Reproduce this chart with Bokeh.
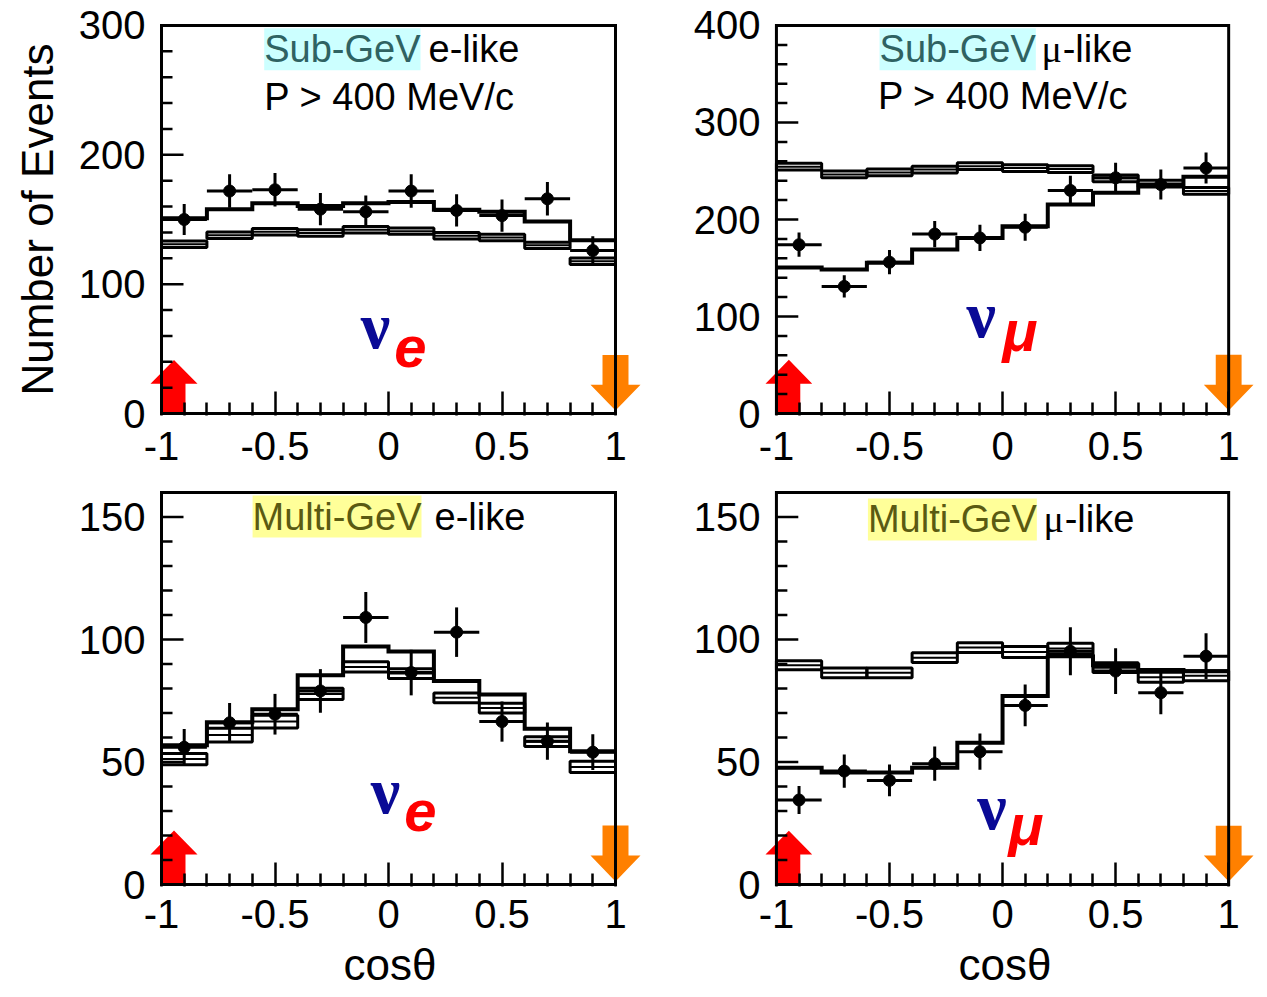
import numpy as np
from bokeh.plotting import figure
from bokeh.layouts import row, column
from bokeh.models import Label, FixedTicker, SingleIntervalTicker, Range1d, Title
from bokeh.embed import file_html
from bokeh.resources import INLINE

# ---------------- data ----------------
bin_edges = [-1.0, -0.8, -0.6, -0.4, -0.2, 0.0, 0.2, 0.4, 0.6, 0.8, 1.0]
bin_centers = [-0.9, -0.7, -0.5, -0.3, -0.1, 0.1, 0.3, 0.5, 0.7, 0.9]
x_major_ticks = [-1.0, -0.5, 0.0, 0.5, 1.0]
x_minor_ticks = [-0.9, -0.8, -0.7, -0.6, -0.4, -0.3, -0.2, -0.1,
                 0.1, 0.2, 0.3, 0.4, 0.6, 0.7, 0.8, 0.9]
x_tick_labels = {-1: "-1", -0.5: "-0.5", 0: "0", 0.5: "0.5", 1: "1"}

# Sub-GeV e-like
sge_data = [150, 172, 173, 158, 156, 172, 157, 153, 166, 126]
sge_err = [12, 13, 13, 12.5, 12.5, 13, 12.5, 12.5, 13, 11]
sge_mc = [130.8, 137.8, 140.5, 139.5, 142.0, 141.0, 137.5, 136.0, 130.0, 117.7]
sge_mc_err = [2.5, 2.5, 2.5, 2.5, 2.5, 2.5, 2.5, 2.5, 2.5, 2.5]
sge_osc = [151, 158, 162.5, 160.5, 162.5, 163.5, 157.5, 156, 148.5, 134]

# Sub-GeV mu-like
sgm_data = [174, 131, 156, 185, 181, 192, 230, 243, 236, 253]
sgm_err = [12.5, 11.5, 12.5, 13.5, 13.5, 14, 15, 15.5, 15.5, 16]
sgm_mc = [254.5, 246.5, 248.5, 251.5, 255.0, 253.0, 252.0, 242.5, 237.0, 229.5]
sgm_mc_err = [3.5, 3.5, 3.5, 3.5, 3.5, 3.5, 3.5, 3.5, 3.5, 3.5]
sgm_osc = [150.5, 148.5, 155.5, 169, 181, 193, 215.5, 227.5, 235.5, 244]

# Multi-GeV e-like
mge_data = [56, 66, 69.5, 79, 109, 86.5, 103, 66.5, 58.5, 54]
mge_err = [7.5, 8.1, 8.3, 8.9, 10.4, 9.3, 10.1, 8.2, 7.6, 7.3]
mge_mc = [51.2, 61.0, 66.5, 77.8, 88.8, 86.1, 76.2, 72.0, 58.3, 48.0]
mge_mc_err = [2.3, 2.8, 2.6, 2.3, 2.1, 2.0, 2.0, 2.0, 2.0, 2.3]
mge_osc = [56.8, 66.2, 71.5, 85.4, 97.1, 95.1, 83.1, 77.6, 63.6, 54.4]

# Multi-GeV mu-like
mgm_data = [34.5, 46.3, 42.5, 49.3, 54.2, 73.1, 95.2, 87.1, 78.3, 93.2]
mgm_err = [5.7, 6.8, 6.5, 7.0, 7.4, 8.5, 9.8, 9.3, 8.8, 9.3]
mgm_mc = [89.5, 86.4, 86.4, 92.6, 96.7, 94.9, 96.3, 88.5, 84.6, 85.2]
mgm_mc_err = [1.8, 2.0, 2.0, 2.0, 2.0, 2.2, 2.2, 2.0, 2.0, 2.0]
mgm_osc = [47.7, 45.7, 45.7, 47.7, 57.9, 76.9, 93.2, 89.5, 87.5, 87.0]

FONT = "Liberation Sans"
SERIF = "Liberation Serif"
NU_BLUE = "#0a0a96"
RED = "#ff0000"
ORANGE = "#ff8000"

# extra room (px) around the drawn box so the arrows are not clipped
EL, ER, EV = 12, 28, 2


def make_panel(width, height, fl_abs, ft_abs, fw, fh, x0_abs, y0_abs, ymax, yint,
               data, err, mc, mc_err, osc, title_parts, second_line, nu_parts,
               ylabel=None, xlabel=None):
    sx = fw / 2.0
    sy = fh / float(ymax)
    # real bokeh frame is a bit larger than the drawn box
    bl = fl_abs - EL - x0_abs
    bt = ft_abs - EV - y0_abs
    br = width - bl - (fw + EL + ER)
    bb = height - bt - (fh + 2 * EV)
    p = figure(width=width, height=height,
               x_range=Range1d(-1 - EL / sx, 1 + ER / sx),
               y_range=Range1d(-EV / sy, ymax + EV / sy),
               output_backend="svg", toolbar_location=None,
               min_border_left=bl, min_border_right=br,
               min_border_top=bt, min_border_bottom=bb)
    p.xgrid.visible = False
    p.ygrid.visible = False
    p.background_fill_color = "white"
    p.border_fill_color = "white"
    p.outline_line_color = None

    p.xaxis.ticker = FixedTicker(ticks=x_major_ticks, minor_ticks=x_minor_ticks)
    p.xaxis.major_label_overrides = x_tick_labels
    p.yaxis.ticker = SingleIntervalTicker(interval=yint, num_minor_ticks=5)
    for ax in (p.xaxis[0], p.yaxis[0]):
        ax.axis_line_color = None
        ax.major_tick_out = 0
        ax.minor_tick_out = 0
        ax.major_label_text_font = FONT
        ax.major_label_text_font_size = "40px"
        ax.major_label_text_color = "black"
        ax.axis_label_text_font = FONT
        ax.axis_label_text_font_size = "44px"
        ax.axis_label_text_font_style = "normal"
        ax.axis_label_text_color = "black"
    xa = p.xaxis[0]
    xa.major_tick_line_width = 2.5
    xa.minor_tick_line_width = 2.5
    xa.major_tick_in = 22 + EV
    xa.minor_tick_in = 11 + EV
    xa.major_label_standoff = 16
    ya = p.yaxis[0]
    ya.major_tick_line_color = None
    ya.minor_tick_line_color = None
    ya.major_label_standoff = 16 - EL
    if ylabel:
        ya.axis_label = ylabel
        ya.axis_label_standoff = 14
    if xlabel:
        xa.major_label_standoff = 13
        # left edge of the label measured from the frame's left edge
        p.add_layout(Title(text=xlabel, align="left", offset=194,
                           standoff=15, text_font=FONT, text_font_size="44px",
                           text_font_style="normal", text_color="black"), "below")

    fb_abs = ft_abs + fh

    def to_data(X, Y):
        return (-1.0 + (X - fl_abs) / sx, (fb_abs - Y) / sy)

    left = np.array(bin_edges[:-1])
    right = np.array(bin_edges[1:])
    xc = np.array(bin_centers)
    d = np.array(data, dtype=float)
    e = np.array(err, dtype=float)
    m = np.array(mc, dtype=float)
    me = np.array(mc_err, dtype=float)
    o = list(osc)

    # arrows (pixel shapes attached to the ends of the cos-theta axis)
    red_px = [(1, 0), (24, 0), (24, 30), (36, 30), (12.5, 54), (-11, 30), (1, 30)]
    org_px = [(-13, 59), (13, 59), (13, 29), (25, 29), (0, 3), (-25, 29), (-13, 29)]
    p.patch(x=[-1.0 + dx / sx for dx, dy in red_px], y=[dy / sy for dx, dy in red_px],
            fill_color=RED, line_color=None)
    p.patch(x=[1.0 + dx / sx for dx, dy in org_px], y=[dy / sy for dx, dy in org_px],
            fill_color=ORANGE, line_color=None)

    # frame box of the histogram
    p.quad(left=[-1.0], right=[1.0], bottom=[0.0], top=[float(ymax)],
           fill_color=None, line_color="black", line_width=3, line_join="miter")
    # inward y ticks at the box edge (cos theta = -1)
    y_major = np.arange(0, ymax + 1e-9, yint)
    y_minor = np.array([v for v in np.arange(0, ymax + 1e-9, yint / 5.0)
                        if abs(v / yint - round(v / yint)) > 1e-6])
    p.segment(x0=np.full(len(y_major), -1.0), x1=np.full(len(y_major), -1.0 + 22 / sx),
              y0=y_major, y1=y_major, line_color="black", line_width=2.5)
    p.segment(x0=np.full(len(y_minor), -1.0), x1=np.full(len(y_minor), -1.0 + 11 / sx),
              y0=y_minor, y1=y_minor, line_color="black", line_width=2.5)

    # no-oscillation MC boxes
    p.quad(left=left, right=right, bottom=m - me, top=m + me,
           fill_color=None, line_color="black", line_width=3)
    p.segment(x0=left, x1=right, y0=m, y1=m, line_color="black", line_width=2)
    # best-fit oscillation histogram
    p.step(x=bin_edges, y=o + [o[-1]], mode="after", line_color="black",
           line_width=4, line_join="miter")
    # data
    p.segment(x0=xc - 0.1, x1=xc + 0.1, y0=d, y1=d, line_color="black", line_width=3)
    p.segment(x0=xc, x1=xc, y0=d - e, y1=d + e, line_color="black", line_width=3)
    p.scatter(x=xc, y=d, size=12, color="black")

    # title
    for (txt, X, Y, align, color, bg, font) in title_parts:
        tx, ty = to_data(X, Y)
        kw = dict(x=tx, y=ty, text=txt, text_align=align, text_baseline="alphabetic",
                  text_font=font, text_font_size="38px", text_color=color)
        if bg:
            kw["background_fill_color"] = bg
            kw["background_fill_alpha"] = 1
        p.add_layout(Label(**kw))
    if second_line:
        txt, X, Y = second_line
        tx, ty = to_data(X, Y)
        p.add_layout(Label(x=tx, y=ty, text=txt, text_align="center",
                           text_baseline="alphabetic", text_font=FONT,
                           text_font_size="38px", text_color="black"))
    # neutrino flavour label
    for (txt, X, Y, color, font, size, style) in nu_parts:
        tx, ty = to_data(X, Y)
        p.add_layout(Label(x=tx, y=ty, text=txt, text_align="center",
                           text_baseline="alphabetic", text_font=font,
                           text_font_size=size, text_font_style=style,
                           text_color=color))
    return p


W1, W2 = 690, 577
H1, H2 = 476, 521

SUB_BG, SUB_FG = "#ccffff", "#2f6262"
MUL_BG, MUL_FG = "#ffff99", "#5a5a12"

p1 = make_panel(W1, H1, 161, 22, 454, 391, 0, 0, 300, 100,
                sge_data, sge_err, sge_mc, sge_mc_err, sge_osc,
                [("Sub-GeV", 420, 46, "right", SUB_FG, SUB_BG, FONT),
                 ("e-like", 428, 46, "left", "black", None, FONT)],
                ("P > 400 MeV/c", 389, 94),
                [("ν", 375, 324, NU_BLUE, SERIF, "66px", "bold"),
                 ("e", 410, 346, RED, FONT, "58px", "bold italic")],
                ylabel="Number of Events")

p2 = make_panel(W2, H1, 773, 25, 455, 390, 690, 0, 400, 100,
                sgm_data, sgm_err, sgm_mc, sgm_mc_err, sgm_osc,
                [("Sub-GeV", 1034, 49, "right", SUB_FG, SUB_BG, FONT),
                 ("μ", 1050, 49, "center", "black", None, SERIF),
                 ("-like", 1061, 49, "left", "black", None, FONT)],
                ("P > 400 MeV/c", 1001, 96),
                [("ν", 979, 315, NU_BLUE, SERIF, "66px", "bold"),
                 ("μ", 1018, 332, RED, FONT, "58px", "bold italic")])

p3 = make_panel(W1, H2, 161, 492, 454, 392, 0, 476, 160, 50,
                mge_data, mge_err, mge_mc, mge_mc_err, mge_osc,
                [("Multi-GeV", 421, 516, "right", MUL_FG, MUL_BG, FONT),
                 ("e-like", 434, 516, "left", "black", None, FONT)],
                None,
                [("ν", 385, 790, NU_BLUE, SERIF, "66px", "bold"),
                 ("e", 420, 810, RED, FONT, "58px", "bold italic")],
                xlabel="cosθ")

p4 = make_panel(W2, H2, 773, 492, 455, 393, 690, 476, 160, 50,
                mgm_data, mgm_err, mgm_mc, mgm_mc_err, mgm_osc,
                [("Multi-GeV", 1035, 519, "right", MUL_FG, MUL_BG, FONT),
                 ("μ", 1052, 519, "center", "black", None, SERIF),
                 ("-like", 1063, 519, "left", "black", None, FONT)],
                None,
                [("ν", 990, 807, NU_BLUE, SERIF, "66px", "bold"),
                 ("μ", 1024, 825, RED, FONT, "58px", "bold italic")],
                xlabel="cosθ")

layout = column(row(p1, p2), row(p3, p4))
open("out.html", "w").write(file_html(layout, INLINE))
